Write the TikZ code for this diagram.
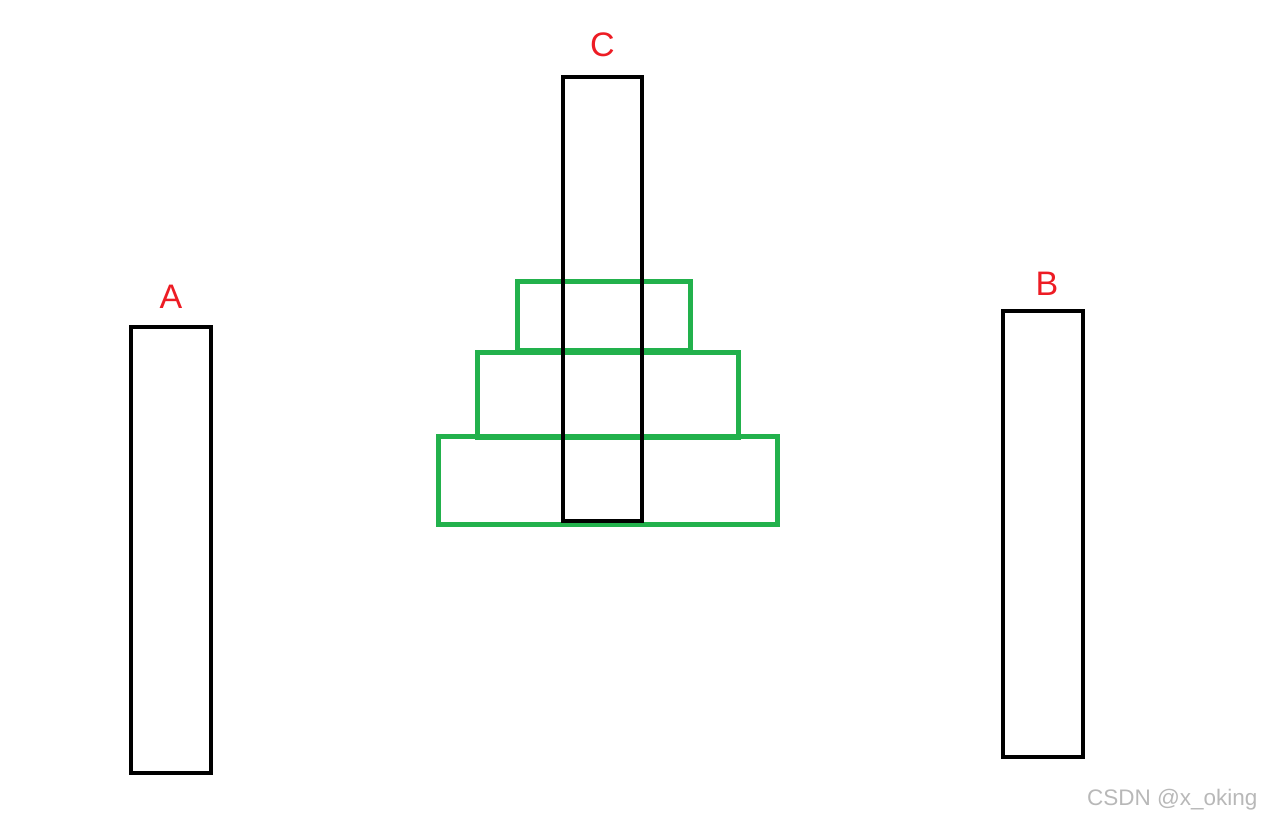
\documentclass[tikz,border=0pt]{standalone}
\usepackage{fontspec}
\setmainfont{Liberation Sans}
\usetikzlibrary{positioning}
\definecolor{pegred}{RGB}{237,28,36}
\definecolor{diskgreen}{RGB}{34,177,76}

\begin{document}
\begin{tikzpicture}[x=1pt,y=-1pt,
  rod/.style={rectangle,draw=black,line width=4.5pt,inner sep=0pt,minimum width=80pt,minimum height=446pt},
  disk/.style={rectangle,draw=diskgreen,line width=5pt,inner sep=0pt},
  peg label/.style={text=pegred,inner sep=0pt,font=\fontsize{34}{40}\selectfont}]
  \useasboundingbox (0,0) rectangle (1263,822);
  % disks on C
  \node[disk,minimum width=173pt,minimum height=69pt] (disk1) at (603.5,315.5) {};
  \node[disk,minimum width=261pt,minimum height=85pt] (disk2) at (607.5,394.5) {};
  \node[disk,minimum width=339pt,minimum height=88pt] (disk3) at (607.5,480) {};
  % rods
  \node[rod] (rodA) at (171,550) {};
  \node[rod] (rodB) at (1043,534) {};
  \node[rod,minimum width=79pt,minimum height=444pt] (rodC) at (602.5,299) {};
  \node[peg label,above=16pt of rodA] (labA) {A};
  \node[peg label,above=13pt of rodB,xshift=4pt] (labB) {B};
  \node[peg label,above=18pt of rodC] (labC) {C};
  \node[anchor=east,text=black!28,font=\fontsize{22.5}{26}\selectfont] (mark) at (1261,800) {CSDN @x\_oking};
\end{tikzpicture}
\end{document}
